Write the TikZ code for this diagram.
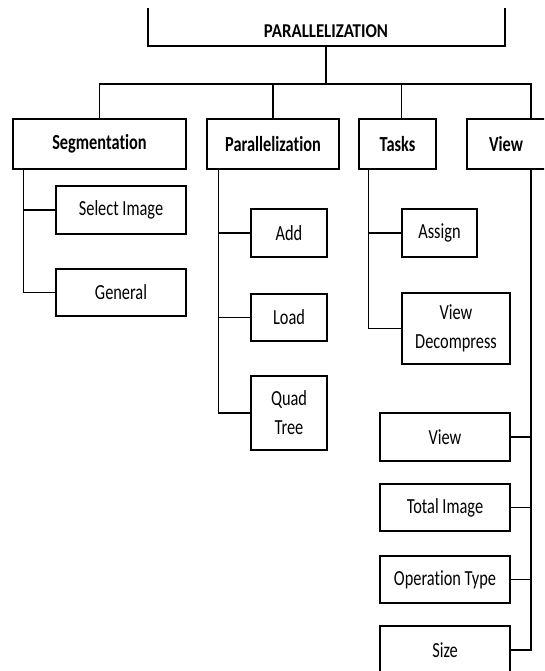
\documentclass[tikz,border=0pt]{standalone}
\usepackage{fontspec}
\setmainfont{Carlito}[FakeStretch=0.76,Ligatures=NoCommon]
\newfontfamily\titlefont{Carlito}[FakeStretch=0.86,Ligatures=NoCommon]
\usetikzlibrary{calc}
\begin{document}
\begin{tikzpicture}[x=1pt,y=-1pt,
  line width=1.1pt,
  box/.style={draw,rectangle,inner sep=0pt,align=center,
    font=\fontsize{21.5}{29}\selectfont},
  headbox/.style={box,font=\fontsize{21.5}{29}\selectfont\bfseries}]
\useasboundingbox (0,0) rectangle (544,671);
\clip (0,0) rectangle (544,671);
% title (open-top box)
\node[font=\titlefont\fontsize{19.6}{22}\selectfont\bfseries] (title) at (326,31) {PARALLELIZATION};
\coordinate (tl) at (148,8);
\coordinate (tr) at (505,8);
\coordinate (tstem) at (326,46);
\draw (tl) |- (tstem) -| (tr);
% level 1
\node[headbox,minimum width=173pt,minimum height=50pt] (seg) at (99.5,144) {Segmentation};
\node[headbox,minimum width=132pt,minimum height=50pt] (par) at (273,144) {Parallelization};
\node[headbox,minimum width=77pt,minimum height=50pt] (tasks) at (397.5,144) {Tasks};
\node[draw,rectangle,minimum width=90pt,minimum height=50pt,inner sep=0pt] (view) at (512,144) {};
\node[font=\fontsize{21.5}{29}\selectfont\bfseries] (viewlbl) at (506,144) {View};
\coordinate (bus) at (326,84);
\coordinate (vstem) at (531,119);
\draw (tstem) -- (bus);
\draw (seg.north) |- (bus);
\draw (par.north) |- (bus);
\draw ($(tasks.north)+(4pt,0)$) |- (bus);
\draw (vstem) |- (bus);
% level 2 boxes
\node[box,minimum width=130pt,minimum height=48pt] (selimg) at (121,210) {Select Image};
\node[box,minimum width=130pt,minimum height=47pt] (general) at (121,292.5) {General};
\node[box,minimum width=76pt,minimum height=48pt] (add) at (289,233) {Add};
\node[box,minimum width=76pt,minimum height=47pt] (load) at (289,317.5) {Load};
\node[box,minimum width=76pt,minimum height=74pt] (quad) at (289,413) {Quad\\Tree};
\node[box,minimum width=75pt,minimum height=48pt] (assign) at (439.5,233) {Assign};
\node[box,minimum width=108pt,minimum height=71pt] (viewdec) at (456,328.5) {View\\Decompress};
\node[box,minimum width=130pt,minimum height=48pt] (view2) at (445,437) {View};
\node[box,minimum width=130pt,minimum height=47pt] (total) at (445,507.5) {Total Image};
\node[box,minimum width=130pt,minimum height=47pt] (optype) at (445,579.5) {Operation Type};
\node[box,minimum width=130pt,minimum height=48pt] (size) at (445,650) {Size};
% drops
\coordinate (segd) at ($(seg.south west)+(11pt,0)$);
\coordinate (pard) at ($(par.south west)+(12pt,0)$);
\coordinate (tasd) at ($(tasks.south west)+(10pt,0)$);
\coordinate (vd) at (531,169);
\draw (segd) |- (general.west);
\draw (selimg.west) -- (selimg.west -| segd);
\draw (pard) |- (quad.west);
\draw (add.west) -- (add.west -| pard);
\draw (load.west) -- (load.west -| pard);
\draw (tasd) |- (viewdec.west);
\draw (assign.west) -- (assign.west -| tasd);
\draw (vd) |- (size.east);
\draw (view2.east) -- (view2.east -| vd);
\draw (total.east) -- (total.east -| vd);
\draw (optype.east) -- (optype.east -| vd);
\end{tikzpicture}
\end{document}
